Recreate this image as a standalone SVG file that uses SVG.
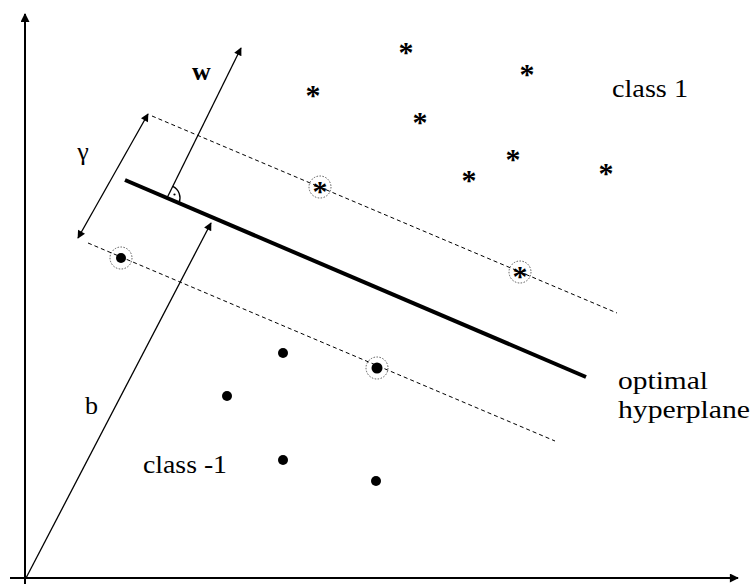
<svg xmlns="http://www.w3.org/2000/svg" width="753" height="587" viewBox="0 0 753 587">
<defs>
<marker id="ah" viewBox="0 0 10 10" refX="9" refY="5" markerWidth="10" markerHeight="8" markerUnits="userSpaceOnUse" orient="auto-start-reverse"><path d="M0,0 L10,5 L0,10 z" fill="#000"/></marker>
<marker id="ahl" viewBox="0 0 10 10" refX="9" refY="5" markerWidth="12" markerHeight="9" markerUnits="userSpaceOnUse" orient="auto"><path d="M0,0 L10,5 L0,10 z" fill="#000"/></marker>
</defs>
<style>
.ax{stroke:#000;stroke-width:2;fill:none}
.thin{stroke:#000;stroke-width:1.3;fill:none}
.dash{stroke:#000;stroke-width:1;stroke-dasharray:4 3;fill:none}
.hp{stroke:#000;stroke-width:4;fill:none}
.sv{fill:none;stroke:#555;stroke-width:1;stroke-dasharray:1.5 1.5}
.dot{fill:#000}
.star{font-family:"Liberation Serif",serif;font-weight:bold;font-size:30px;text-anchor:middle}
.lbl{font-family:"Liberation Serif",serif;font-size:26px;fill:#000}
</style>
<rect width="753" height="587" fill="#fff"/>
<g id="connectors">
<line class="ax" x1="25" y1="584" x2="25" y2="14" marker-end="url(#ahl)"/>
<line class="ax" x1="10" y1="578" x2="738" y2="578" marker-end="url(#ahl)"/>
<line class="thin" x1="26" y1="578" x2="211" y2="223" marker-end="url(#ah)"/>
<line class="thin" x1="167" y1="198" x2="241" y2="48" marker-end="url(#ah)"/>
<line class="thin" x1="78" y1="238" x2="148" y2="114" marker-start="url(#ah)" marker-end="url(#ah)"/>
<path class="thin" d="M172.8,186.3 A13,13 0 0 1 179,203"/>
<circle cx="174.5" cy="194.5" r="1.1" fill="#000"/>
</g>
<g id="hyperplane">
<line class="hp" x1="125" y1="180" x2="586" y2="377"/>
</g>
<g id="margin-upper"><line class="dash" x1="152" y1="116" x2="617" y2="313"/></g>
<g id="margin-lower"><line class="dash" x1="88" y1="243" x2="555" y2="441"/></g>
<g id="class1-points">
<text class="star" x="406" y="62">*</text>
<text class="star" x="527" y="84">*</text>
<text class="star" x="313" y="105">*</text>
<text class="star" x="420" y="132">*</text>
<text class="star" x="513" y="169">*</text>
<text class="star" x="469" y="190">*</text>
<text class="star" x="606" y="183">*</text>
<text class="star" x="320" y="201">*</text>
<text class="star" x="520" y="286">*</text>
<circle class="sv" cx="320" cy="187" r="11"/>
<circle class="sv" cx="520" cy="272" r="11"/>
</g>
<g id="class-1-points">
<circle class="dot" cx="121" cy="258" r="5"/>
<circle class="sv" cx="121" cy="258" r="11"/>
<circle class="dot" cx="377" cy="368" r="5.5"/>
<circle class="sv" cx="377" cy="368" r="11"/>
<circle class="dot" cx="283" cy="353" r="5"/>
<circle class="dot" cx="227" cy="396" r="5"/>
<circle class="dot" cx="283" cy="460" r="5"/>
<circle class="dot" cx="376" cy="481" r="5"/>
</g>
<g id="labels">
<text class="lbl" x="192" y="80" font-weight="bold" font-size="26">w</text>
<text class="lbl" x="83" y="160" text-anchor="middle" font-size="24">γ</text>
<text class="lbl" x="85" y="414" font-size="27">b</text>
<text class="lbl" x="612" y="97" textLength="76" lengthAdjust="spacingAndGlyphs">class 1</text>
<text class="lbl" x="143" y="473" textLength="84" lengthAdjust="spacingAndGlyphs">class -1</text>
<text class="lbl" x="618" y="389" textLength="90" lengthAdjust="spacingAndGlyphs">optimal</text>
<text class="lbl" x="618" y="418" textLength="132" lengthAdjust="spacingAndGlyphs">hyperplane</text>
</g>
</svg>
